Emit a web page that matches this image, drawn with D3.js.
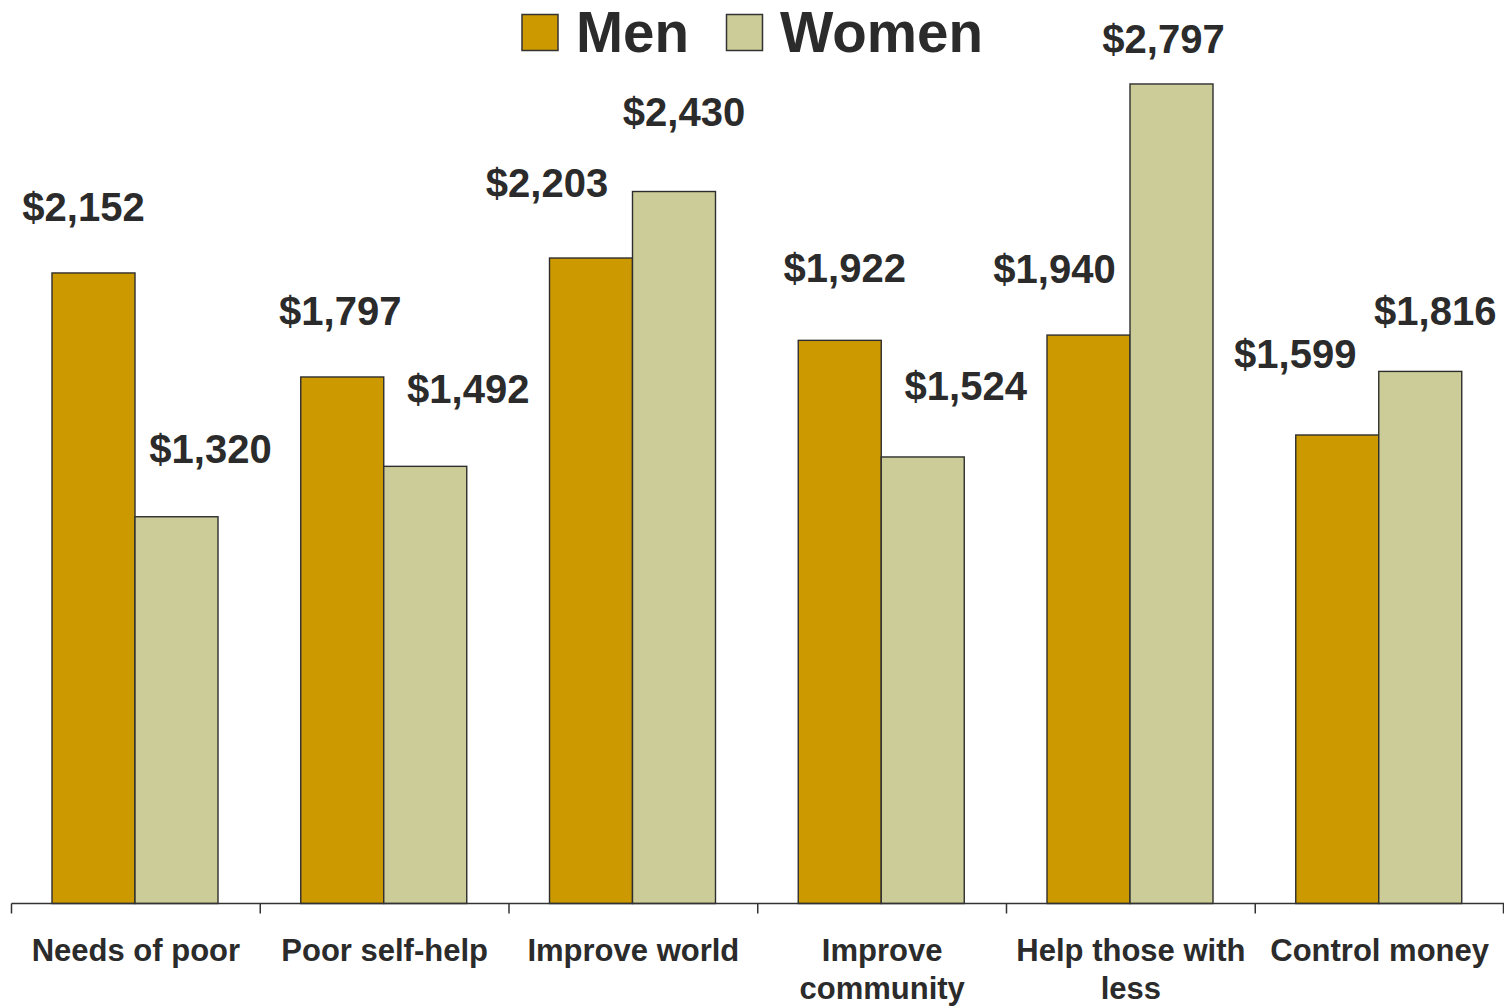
<!DOCTYPE html>
<html>
<head>
<meta charset="utf-8">
<script src="https://cdn.jsdelivr.net/npm/d3@7"></script>
<style>
  html, body { margin: 0; padding: 0; background: #ffffff; }
  svg { display: block; }
  text { font-family: "Liberation Sans", Arial, Helvetica, sans-serif; font-weight: bold; fill: #2b2b2b; }
</style>
</head>
<body>
<svg id="chart" width="1504" height="1006"></svg>
<script>
// Average gift amount by giving motive, men vs women
const categories = ["Needs of poor", "Poor self-help", "Improve world", "Improve\ncommunity", "Help those with\nless", "Control money"];
const seriesNames = ["Men", "Women"];
const menValues   = [2152, 1797, 2203, 1922, 1940, 1599];
const womenValues = [1320, 1492, 2430, 1524, 2797, 1816];

// Hand placement of value labels relative to the top centre of each bar: [dx, dy]
const menLabelNudge   = [[-10, -52], [-2, -52], [-44, -61], [5, -58], [-34, -52], [-42, -67]];
const womenLabelNudge = [[34, -54], [43, -63], [10, -66], [43, -57], [-8, -31], [15, -46]];

const colors = { Men: "#cc9900", Women: "#cccc99" };
const fmt = v => "$" + d3.format(",")(v);

const svg = d3.select("#chart");
const margin = { left: 11.5, right: 0, top: 24.5, bottom: 102.5 };
const W = 1504, H = 1006;
const baseY = H - margin.bottom;

const x0 = d3.scaleBand().domain(categories).range([margin.left, W - margin.right]).padding(0);
const x1 = d3.scaleBand().domain(seriesNames).range([40.5, 206.5]).padding(0);
const y = d3.scaleLinear().domain([0, 3000]).range([baseY, margin.top]);

const rows = categories.map((c, i) => ({
  cat: c,
  bars: [
    { s: "Men", v: menValues[i], nudge: menLabelNudge[i] },
    { s: "Women", v: womenValues[i], nudge: womenLabelNudge[i] }
  ]
}));

// Bars
const groups = svg.append("g").selectAll("g")
  .data(rows).join("g")
  .attr("transform", d => `translate(${x0(d.cat)},0)`);

groups.selectAll("rect")
  .data(d => d.bars).join("rect")
  .attr("x", d => x1(d.s))
  .attr("y", d => y(d.v))
  .attr("width", x1.bandwidth())
  .attr("height", d => y(0) - y(d.v))
  .attr("fill", d => colors[d.s])
  .attr("stroke", "#2e2e2e")
  .attr("stroke-width", 1.4);

// Value labels
groups.selectAll("text.val")
  .data(d => d.bars).join("text")
  .attr("class", "val")
  .attr("x", d => x1(d.s) + x1.bandwidth() / 2 + d.nudge[0])
  .attr("y", d => y(d.v) + d.nudge[1])
  .attr("text-anchor", "middle")
  .style("font-size", "40px")
  .text(d => fmt(d.v));

// Category axis: baseline with ticks at band boundaries
const axisG = svg.append("g");
axisG.append("line")
  .attr("x1", margin.left).attr("x2", W)
  .attr("y1", baseY).attr("y2", baseY)
  .attr("stroke", "#333333").attr("stroke-width", 1.5);

const tickXs = categories.map(c => x0(c)).concat([x0.range()[1] - 0.5]);
axisG.selectAll("line.tick")
  .data(tickXs).join("line")
  .attr("class", "tick")
  .attr("x1", d => d).attr("x2", d => d)
  .attr("y1", baseY).attr("y2", baseY + 10)
  .attr("stroke", "#333333").attr("stroke-width", 1.5);

const catLabels = axisG.selectAll("text.cat")
  .data(categories).join("text")
  .attr("class", "cat")
  .attr("text-anchor", "middle")
  .attr("transform", c => `translate(${x0(c) + x0.bandwidth() / 2},961)`)
  .style("font-size", "31px");
catLabels.selectAll("tspan")
  .data(c => c.split("\n")).join("tspan")
  .attr("x", 0)
  .attr("y", (d, i) => i * 38)
  .text(d => d);

// Legend
const legend = svg.append("g");
const legendItems = [
  { s: "Men", box: 522, tx: 576 },
  { s: "Women", box: 726.5, tx: 780 }
];
legend.selectAll("rect")
  .data(legendItems).join("rect")
  .attr("x", d => d.box).attr("y", 14.5)
  .attr("width", 36).attr("height", 36)
  .attr("fill", d => colors[d.s])
  .attr("stroke", "#333333").attr("stroke-width", 1.5);
legend.selectAll("text")
  .data(legendItems).join("text")
  .attr("x", d => d.tx).attr("y", 52)
  .style("font-size", "56.5px")
  .text(d => d.s);
</script>
</body>
</html>
